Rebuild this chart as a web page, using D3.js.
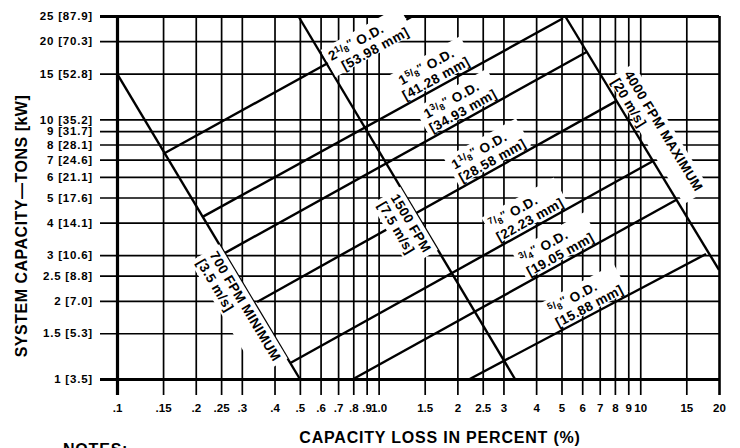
<!DOCTYPE html>
<html>
<head>
<meta charset="utf-8">
<script src="https://cdn.jsdelivr.net/npm/d3@7"></script>
<style>
  html, body { margin: 0; padding: 0; background: #fff; }
  svg { display: block; font-family: "Liberation Sans", Arial, Helvetica, sans-serif; font-weight: bold; }
</style>
</head>
<body>
<div id="chart"></div>
<script>
// x axis: capacity loss in percent (log)
const xTicks = [0.1, 0.15, 0.2, 0.25, 0.3, 0.4, 0.5, 0.6, 0.7, 0.8, 0.9, 1, 1.5, 2, 2.5, 3, 4, 5, 6, 7, 8, 9, 10, 15, 20];
const xTickLabels = ['.1', '.15', '.2', '.25', '.3', '.4', '.5', '.6', '.7', '.8', '.9', '1.0', '1.5', '2', '2.5', '3', '4', '5', '6', '7', '8', '9', '10', '15', '20'];

// y axis: system capacity in tons [kW] (log)
const yTicks = [1, 1.5, 2, 2.5, 3, 4, 5, 6, 7, 8, 9, 10, 15, 20, 25];
const yTickKw = ['3.5', '5.3', '7.0', '8.8', '10.6', '14.1', '17.6', '21.1', '24.6', '28.1', '31.7', '35.2', '52.8', '70.3', '87.9'];

// pipe size lines (O.D.), endpoints as [loss %, tons]
const pipeSizes = ['2 1/8', '1 5/8', '1 3/8', '1 1/8', '7/8', '3/4', '5/8'];
const pipeMm = ['53.98', '41.28', '34.93', '28.58', '22.23', '19.05', '15.88'];
const pipeStart = [[0.15, 7.35], [0.2115, 4.2], [0.259, 3.06], [0.343, 1.98], [0.458, 1.15], [0.8, 1], [2.23, 1]];
const pipeEnd = [[1.354, 25], [5.07, 24.5], [6.26, 18.2], [8.15, 11.8], [11.2, 6.91], [13.7, 4.89], [17.85, 3.03]];

// velocity limit lines
const velNames = ['700 FPM MINIMUM', '1500 FPM', '4000 FPM MAXIMUM'];
const velMetric = ['[3.5 m/s]', '[7.5 m/s]', '[20 m/s]'];
const velStart = [[0.1, 15], [0.493, 25], [5.16, 25]];
const velEnd = [[0.5, 1], [3.32, 1], [20, 2.63]];

// label placement (layout only)
const pipeLabelAt = [0.66, 1.33, 1.66, 2.12, 2.95, 3.85, 4.95];
const pipeLabelOff = [0, -19, -19, -19, -19, -19, -19];
const pipeLabelIndent = [7, -4, -2, 0, 0, 0, 0];
const velLabelT = [0.57, 0.48, 0.27];
const velLabelOff = [14, 14, -20];

const W = 740, H = 448;
const mLeft = 117, mRight = 719, mTop = 16, mBottom = 379;
const LINE_GAP = 15;

const svg = d3.select('#chart').append('svg')
  .attr('width', W)
  .attr('height', H);

const x = d3.scaleLog().domain([0.1, 20]).range([mLeft, mRight]);
const y = d3.scaleLog().domain([1, 25]).range([mBottom, mTop]);

// horizontal grid + y labels
const yAxis = svg.append('g')
  .attr('transform', `translate(100,0)`)
  .call(d3.axisLeft(y)
    .tickValues(yTicks)
    .tickSize(-(mRight - 100))
    .tickPadding(7)
    .tickFormat((d, i) => `${d} [${yTickKw[i]}]`));
yAxis.select('.domain').remove();
yAxis.selectAll('.tick line')
  .attr('stroke', '#000')
  .attr('stroke-width', d => (d === 1 || d === 25) ? 3.2 : 1.7);
yAxis.selectAll('.tick text')
  .attr('fill', '#000')
  .attr('font-size', 11.5)
  .attr('font-weight', 'bold')
  .attr('letter-spacing', 0.8)
  .attr('font-family', '"Liberation Sans", Arial, sans-serif');

// vertical grid + x labels
const xAxis = svg.append('g')
  .attr('transform', `translate(0,395)`)
  .call(d3.axisBottom(x)
    .tickValues(xTicks)
    .tickSize(-(395 - mTop))
    .tickPadding(9)
    .tickFormat((d, i) => xTickLabels[i]));
xAxis.select('.domain').remove();
xAxis.selectAll('.tick line')
  .attr('stroke', '#000')
  .attr('stroke-width', d => d === 0.1 ? 3.2 : (d === 20 ? 2.6 : 1.7));
xAxis.selectAll('.tick text')
  .attr('fill', '#000')
  .attr('font-size', 11.5)
  .attr('font-weight', 'bold')
  .attr('font-family', '"Liberation Sans", Arial, sans-serif');

// diagonal lines
const lineGen = d3.line().x(d => x(d[0])).y(d => y(d[1]));
const lines = svg.append('g');

lines.selectAll('.vel')
  .data(velStart.map((s, i) => [s, velEnd[i]]))
  .enter().append('path')
  .attr('class', 'vel')
  .attr('d', lineGen)
  .attr('stroke', '#000')
  .attr('stroke-width', 2.4)
  .attr('fill', 'none');

lines.selectAll('.pipe')
  .data(pipeStart.map((s, i) => [s, pipeEnd[i]]))
  .enter().append('path')
  .attr('class', 'pipe')
  .attr('d', lineGen)
  .attr('stroke', '#000')
  .attr('stroke-width', 2.4)
  .attr('fill', 'none');

// label helper: group rotated along a line, white box behind text
function placeLabel(px, py, angle, padBottom, build) {
  const g = svg.append('g')
    .attr('transform', `translate(${px},${py}) rotate(${angle})`);
  const bg = g.append('rect').attr('fill', '#fff');
  const t = g.append('g')
    .attr('font-size', 13.5)
    .attr('letter-spacing', 0.4)
    .attr('fill', '#000');
  build(t);
  const b = t.node().getBBox();
  bg.attr('x', b.x - 4).attr('y', b.y - 2)
    .attr('width', b.width + 8).attr('height', b.height + 2 + padBottom);
}

function fracLine(t, size, yy) {
  const parts = size.split(' ');
  const whole = parts.length > 1 ? parts[0] : '';
  const [num, den] = parts[parts.length - 1].split('/');
  const tx = t.append('text').attr('x', 0).attr('y', yy);
  if (whole) tx.append('tspan').text(whole);
  tx.append('tspan').attr('font-size', 9).attr('dy', -5).text(num);
  tx.append('tspan').attr('font-size', 10).attr('dy', 2).text('/');
  tx.append('tspan').attr('font-size', 9).attr('dy', 3).text(den);
  tx.append('tspan').attr('font-size', 11).attr('dy', -3).text('\u2033');
  tx.append('tspan').attr('dy', 3).text(' O.D.');
}

// pipe labels
pipeSizes.forEach((size, i) => {
  const x0 = x(pipeStart[i][0]), y0 = y(pipeStart[i][1]);
  const x1 = x(pipeEnd[i][0]), y1 = y(pipeEnd[i][1]);
  const ang = Math.atan2(y1 - y0, x1 - x0) * 180 / Math.PI;
  const px = x(pipeLabelAt[i]);
  const py = y0 + (px - x0) * (y1 - y0) / (x1 - x0);
  placeLabel(px, py, ang, -2, t => {
    fracLine(t, size, pipeLabelOff[i]);
    t.append('text')
      .attr('x', pipeLabelIndent[i])
      .attr('y', pipeLabelOff[i] + LINE_GAP)
      .text(`[${pipeMm[i]} mm]`);
  });
});

// velocity labels
velNames.forEach((name, i) => {
  const x0 = x(velStart[i][0]), y0 = y(velStart[i][1]);
  const x1 = x(velEnd[i][0]), y1 = y(velEnd[i][1]);
  const ang = Math.atan2(y1 - y0, x1 - x0) * 180 / Math.PI;
  const px = x0 + (x1 - x0) * velLabelT[i];
  const py = y0 + (y1 - y0) * velLabelT[i];
  placeLabel(px, py, ang, i === 2 ? -2 : 2, t => {
    t.append('text').attr('x', 0).attr('y', velLabelOff[i]).text(name);
    t.append('text').attr('x', 0).attr('y', velLabelOff[i] + LINE_GAP).text(velMetric[i]);
  });
});

// axis titles
svg.append('text')
  .attr('transform', `translate(27,226) rotate(-90)`)
  .attr('text-anchor', 'middle')
  .attr('font-size', 16)
  .attr('letter-spacing', 0.5)
  .text('SYSTEM CAPACITY\u2014TONS [kW]');

svg.append('text')
  .attr('x', 440)
  .attr('y', 443)
  .attr('text-anchor', 'middle')
  .attr('font-size', 16)
  .attr('letter-spacing', 0.8)
  .text('CAPACITY LOSS IN PERCENT (%)');

svg.append('text')
  .attr('x', 63)
  .attr('y', 455)
  .attr('font-size', 16)
  .attr('letter-spacing', 0.8)
  .text('NOTES:');
</script>
</body>
</html>
